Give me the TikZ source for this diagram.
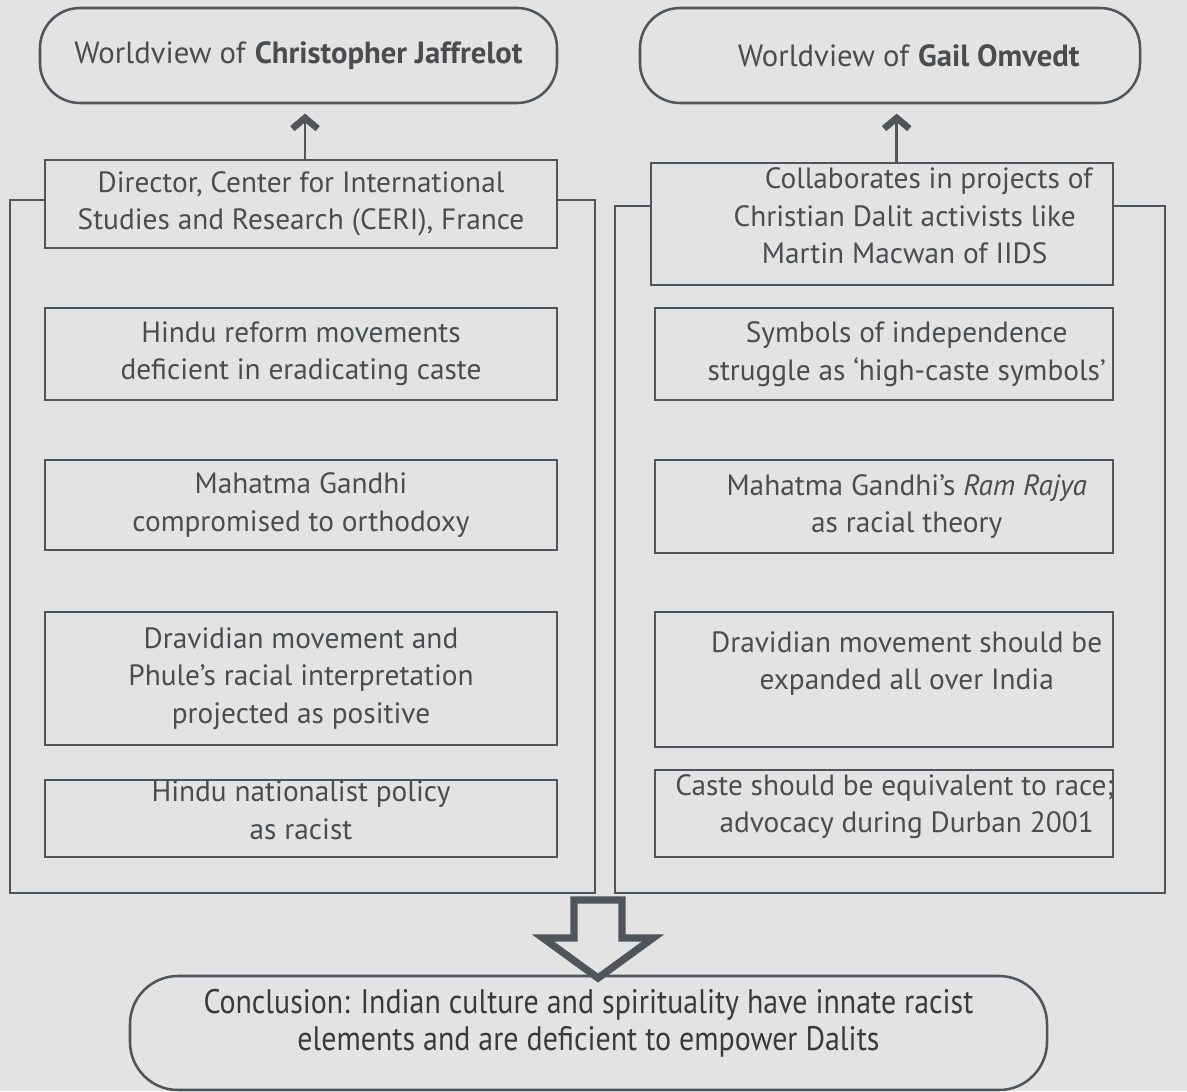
\documentclass[tikz,border=0pt]{standalone}
\usepackage{fontspec}
\setmainfont{PT Sans}
\newfontfamily\condfont[FakeStretch=0.88]{PT Sans}
\usetikzlibrary{arrows.meta}
\definecolor{bg}{HTML}{E3E3E3}
\definecolor{ink}{HTML}{4F555B}
\definecolor{txt}{HTML}{4A4D50}
% indent that moves a centred line of the right column a little to the right
\newcommand{\rs}{\hspace*{34pt}}
% centred lines lifted by #1 without changing the box they occupy
\newcommand{\liftlines}[2]{\raisebox{#1}[\height][\depth]{\begin{tabular}{@{}c@{}}#2\end{tabular}}}
\begin{document}
\begin{tikzpicture}[x=0.75pt,y=-0.75pt,
  wh/.style 2 args={minimum width=#1*0.75pt, minimum height=#2*0.75pt},
  box/.style={draw=ink, line width=1.9pt, fill=bg, inner sep=0pt, align=center,
              text=txt, font=\fontsize{22}{28}\selectfont},
  headbox/.style={box, rounded corners=30pt, font=\fontsize{23}{28}\selectfont},
  frame/.style={draw=ink, line width=1.9pt},
  up/.style={draw=ink, line width=1.9pt,
             -{Straight Barb[length=8pt, width=19pt, line width=5pt]}, shorten >=7pt},
  blockarrow/.style={draw=ink, line width=5.5pt, line join=miter, fill=bg}]
\fill[bg] (0,0) rectangle (1187,1091);
\useasboundingbox (0,0) rectangle (1187,1091);

% outer frames of the two columns
\draw[frame] (10,200) rectangle (595,893);
\draw[frame] (615,206) rectangle (1165,893);

% headings
\node[headbox, wh={517}{95}] (jaf) at (298.5,55.5) {Worldview of \textbf{Christopher Jaffrelot}};
\node[headbox, wh={500}{95}] (omv) at (890,55.5) {\hspace*{28pt}Worldview of \textbf{Gail Omvedt}};

% left column
\node[box, wh={512}{88}]  (dir) at (301,204)   {Director, Center for International\\Studies and Research (CERI), France};
\node[box, wh={512}{92}]  (l1)  at (301,354)   {Hindu reform movements\\deficient in eradicating caste};
\node[box, wh={512}{90}]  (l2)  at (301,505)   {Mahatma Gandhi\\compromised to orthodoxy};
\node[box, wh={512}{133}] (l3)  at (301,678.5) {Dravidian movement and\\Phule's racial interpretation\\projected as positive};
\node[box, wh={512}{77}]  (l4)  at (301,818.5) {\liftlines{4pt}{Hindu nationalist policy\\as racist}};

% right column
\node[box, wh={462}{122}] (col) at (882,224)   {\liftlines{4pt}{\hspace*{70pt}Collaborates in projects of\\\rs Christian Dalit activists like\\\rs Martin Macwan of IIDS}};
\node[box, wh={458}{92}]  (r1)  at (884,354)   {\rs Symbols of independence\\\rs struggle as `high-caste symbols'};
\node[box, wh={458}{93}]  (r2)  at (884,506.5) {\rs Mahatma Gandhi's \textit{Ram Rajya}\\\rs as racial theory};
\node[box, wh={458}{135}] (r3)  at (884,679.5) {\rs Dravidian movement should be\\\rs expanded all over India\\\mbox{}};
\node[box, wh={458}{87}]  (r4)  at (884,813.5) {\liftlines{5pt}{\hspace*{16pt}\makebox[310pt]{Caste should be equivalent to race;}\\\rs advocacy during Durban 2001}};

% links to the headings
\draw[up] ([xshift=3pt]dir.north) -- ([xshift=3pt]dir.north |- jaf.south);
\draw[up] ([xshift=11pt]col.north) -- ([xshift=11pt]col.north |- omv.south);

% conclusion
\node[headbox, rounded corners=36pt, wh={917}{114}, text=txt!75!black,
      font=\condfont\fontsize{25.5}{28}\selectfont] (con) at (588.5,1033)
  {\liftlines{6.5pt}{Conclusion: Indian culture and spirituality have innate racist\\elements and are deficient to empower Dalits}};

% block arrow into the conclusion
\draw[blockarrow] (574,900) -- (622,900) -- (622,938) -- (653,938) -- (598,978)
  -- (543,938) -- (574,938) -- cycle;
\end{tikzpicture}
\end{document}
